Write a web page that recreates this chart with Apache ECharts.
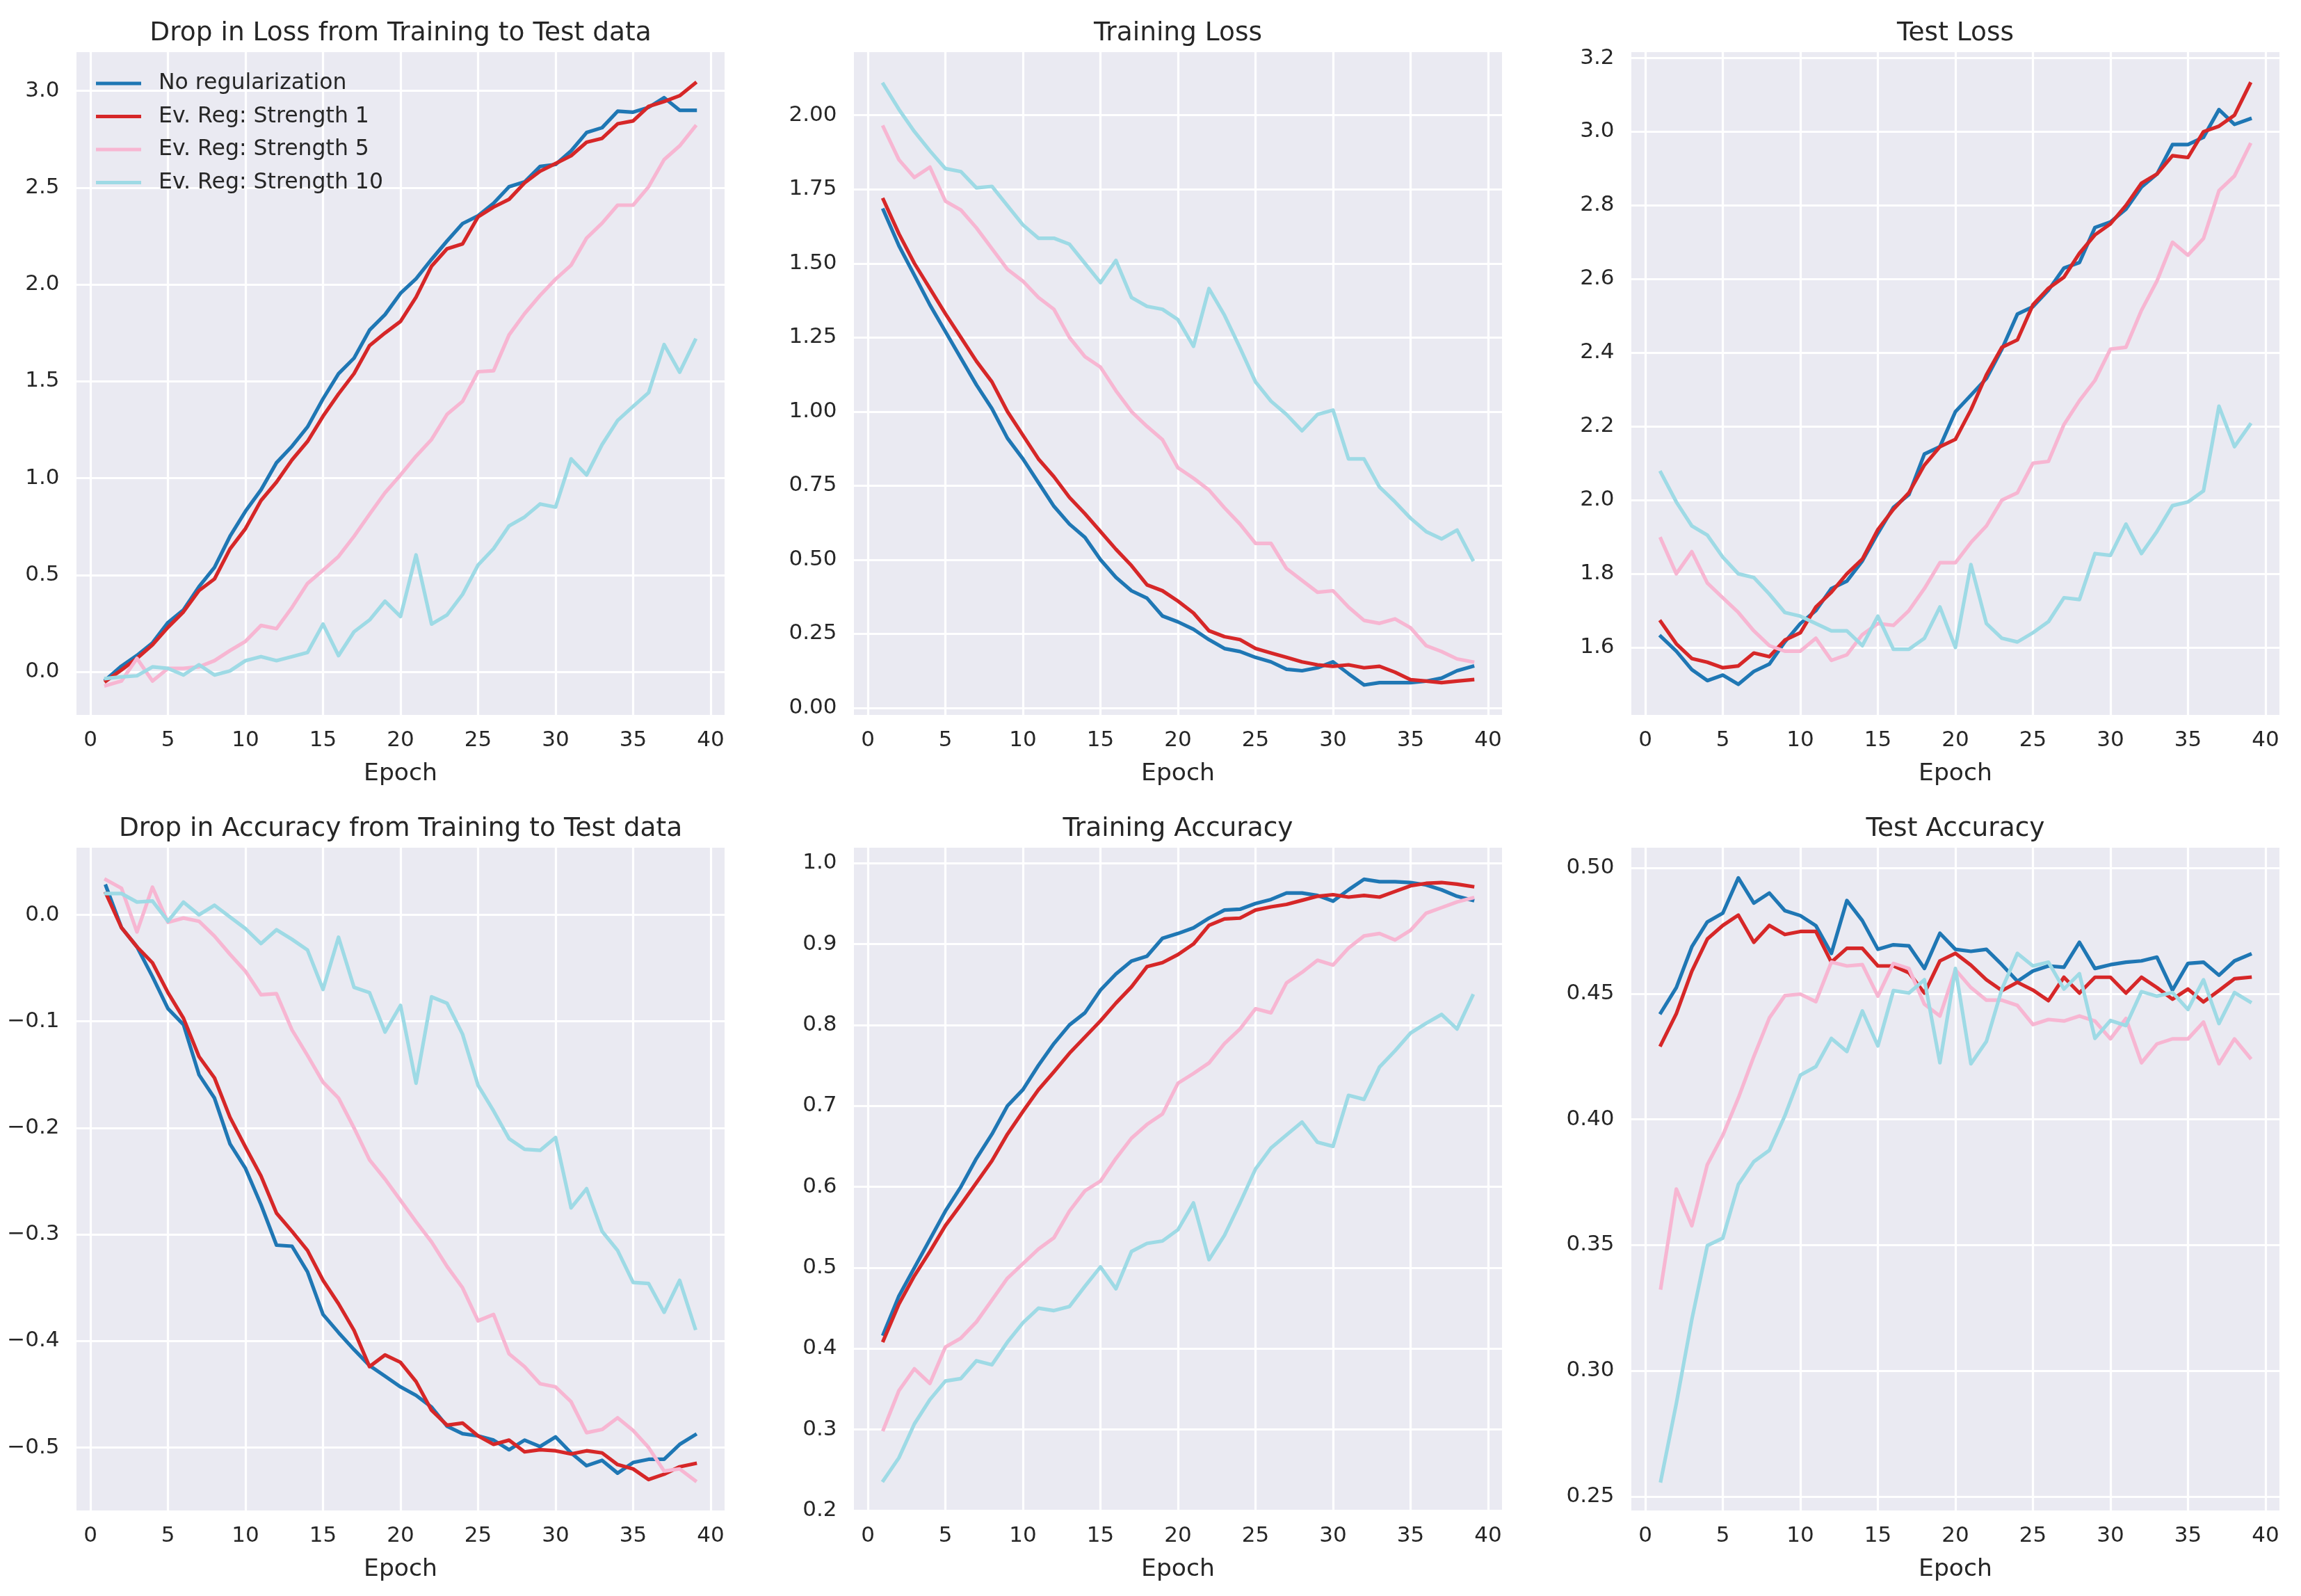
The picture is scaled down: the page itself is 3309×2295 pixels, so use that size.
<!DOCTYPE html>
<html>
<head>
<meta charset="utf-8">
<script src="https://cdn.jsdelivr.net/npm/echarts@6/dist/echarts.min.js"></script>
<style>
html,body{margin:0;padding:0;background:#ffffff;}
#chart{width:3309px;height:2295px;}
</style>
</head>
<body>
<div id="chart"></div>
<script>
// ---------------- DATA ----------------
const epochs = [1,2,3,4,5,6,7,8,9,10,11,12,13,14,15,16,17,18,19,20,21,22,23,24,25,26,27,28,29,30,31,32,33,34,35,36,37,38,39];
const seriesNames = ['No regularization','Ev. Reg: Strength 1','Ev. Reg: Strength 5','Ev. Reg: Strength 10'];
const panelTitles = ['Drop in Loss from Training to Test data','Training Loss','Test Loss',
                     'Drop in Accuracy from Training to Test data','Training Accuracy','Test Accuracy'];
const xAxisLabel = 'Epoch';

// Drop in Loss from Training to Test data
const dropLossNoReg = [-0.04,0.03,0.085,0.15,0.255,0.32,0.44,0.54,0.70,0.83,0.94,1.08,1.165,1.265,1.41,1.54,1.62,1.765,1.845,1.955,2.03,2.13,2.225,2.315,2.355,2.42,2.505,2.53,2.61,2.62,2.69,2.785,2.81,2.895,2.89,2.915,2.965,2.90,2.90];
const dropLossS1 = [-0.047,0.01,0.07,0.14,0.23,0.31,0.42,0.48,0.635,0.74,0.885,0.98,1.095,1.19,1.32,1.435,1.54,1.685,1.75,1.81,1.935,2.095,2.185,2.21,2.35,2.40,2.44,2.525,2.585,2.625,2.665,2.735,2.755,2.83,2.845,2.92,2.945,2.975,3.04];
const dropLossS5 = [-0.07,-0.047,0.07,-0.047,0.018,0.018,0.026,0.058,0.11,0.158,0.24,0.223,0.333,0.457,0.525,0.596,0.70,0.814,0.925,1.017,1.114,1.20,1.33,1.397,1.55,1.555,1.74,1.85,1.944,2.028,2.10,2.24,2.317,2.41,2.41,2.505,2.645,2.716,2.816];
const dropLossS10 = [-0.034,-0.026,-0.02,0.026,0.018,-0.016,0.037,-0.016,0.005,0.058,0.079,0.058,0.079,0.10,0.247,0.084,0.207,0.268,0.365,0.286,0.604,0.247,0.294,0.40,0.552,0.636,0.754,0.80,0.867,0.851,1.10,1.017,1.174,1.298,1.371,1.442,1.69,1.547,1.713];

// Training Loss
const trainLossNoReg = [1.68,1.56,1.46,1.36,1.27,1.18,1.09,1.01,0.91,0.84,0.76,0.68,0.62,0.575,0.50,0.44,0.395,0.37,0.31,0.29,0.265,0.23,0.20,0.19,0.17,0.155,0.13,0.125,0.135,0.155,0.115,0.077,0.085,0.085,0.085,0.09,0.10,0.125,0.14];
const trainLossS1 = [1.715,1.60,1.50,1.415,1.33,1.25,1.17,1.10,1.00,0.92,0.84,0.78,0.71,0.655,0.595,0.535,0.48,0.415,0.395,0.36,0.32,0.26,0.24,0.23,0.20,0.185,0.17,0.155,0.145,0.14,0.145,0.135,0.14,0.12,0.095,0.09,0.085,0.09,0.095];
const trainLossS5 = [1.96,1.85,1.79,1.825,1.71,1.68,1.62,1.55,1.48,1.44,1.385,1.345,1.25,1.185,1.15,1.07,1.00,0.95,0.905,0.81,0.775,0.735,0.675,0.62,0.555,0.555,0.47,0.43,0.39,0.395,0.34,0.295,0.285,0.30,0.27,0.21,0.19,0.165,0.155];
const trainLossS10 = [2.105,2.02,1.945,1.88,1.82,1.81,1.755,1.76,1.695,1.63,1.585,1.585,1.565,1.50,1.435,1.51,1.385,1.355,1.345,1.31,1.22,1.415,1.325,1.215,1.10,1.035,0.99,0.935,0.99,1.005,0.84,0.84,0.745,0.695,0.64,0.595,0.57,0.60,0.50];

// Test Loss
const testLossNoReg = [1.63,1.59,1.54,1.51,1.525,1.50,1.535,1.555,1.615,1.665,1.70,1.76,1.78,1.835,1.91,1.98,2.015,2.125,2.145,2.24,2.285,2.33,2.41,2.505,2.525,2.57,2.63,2.645,2.74,2.755,2.79,2.85,2.885,2.965,2.965,2.985,3.06,3.02,3.035];
const testLossS1 = [1.67,1.61,1.57,1.56,1.545,1.55,1.585,1.575,1.62,1.64,1.71,1.75,1.80,1.84,1.92,1.975,2.02,2.095,2.145,2.165,2.245,2.34,2.415,2.435,2.53,2.575,2.605,2.67,2.72,2.75,2.80,2.86,2.885,2.935,2.93,3.0,3.015,3.045,3.13];
const testLossS5 = [1.895,1.80,1.86,1.775,1.735,1.695,1.645,1.605,1.59,1.59,1.625,1.565,1.58,1.635,1.665,1.66,1.70,1.76,1.83,1.83,1.885,1.93,2.00,2.02,2.10,2.105,2.205,2.27,2.325,2.41,2.415,2.515,2.595,2.70,2.665,2.71,2.84,2.88,2.965];
const testLossS10 = [2.075,1.995,1.93,1.905,1.845,1.80,1.79,1.745,1.695,1.685,1.665,1.645,1.645,1.605,1.685,1.595,1.595,1.625,1.71,1.60,1.825,1.665,1.625,1.615,1.64,1.67,1.735,1.73,1.855,1.85,1.935,1.855,1.915,1.985,1.995,2.025,2.255,2.145,2.205];

// Drop in Accuracy from Training to Test data
const dropAccNoReg = [0.027,-0.012,-0.03,-0.058,-0.088,-0.103,-0.15,-0.172,-0.215,-0.238,-0.272,-0.31,-0.311,-0.335,-0.375,-0.392,-0.408,-0.423,-0.433,-0.443,-0.451,-0.462,-0.48,-0.487,-0.489,-0.493,-0.502,-0.493,-0.499,-0.49,-0.505,-0.517,-0.512,-0.524,-0.514,-0.511,-0.511,-0.497,-0.488];
const dropAccS1 = [0.02,-0.012,-0.03,-0.045,-0.073,-0.097,-0.133,-0.153,-0.19,-0.218,-0.245,-0.28,-0.297,-0.315,-0.343,-0.365,-0.39,-0.424,-0.413,-0.42,-0.438,-0.465,-0.479,-0.477,-0.489,-0.497,-0.493,-0.504,-0.502,-0.503,-0.506,-0.503,-0.505,-0.516,-0.52,-0.53,-0.525,-0.518,-0.515];
const dropAccS5 = [0.033,0.025,-0.016,0.026,-0.007,-0.003,-0.006,-0.02,-0.037,-0.053,-0.075,-0.074,-0.108,-0.132,-0.157,-0.172,-0.2,-0.23,-0.248,-0.268,-0.288,-0.307,-0.33,-0.35,-0.381,-0.375,-0.412,-0.424,-0.44,-0.443,-0.457,-0.486,-0.483,-0.472,-0.484,-0.5,-0.522,-0.52,-0.531];
const dropAccS10 = [0.02,0.02,0.012,0.013,-0.006,0.012,0.0,0.009,-0.002,-0.013,-0.027,-0.014,-0.023,-0.033,-0.07,-0.021,-0.068,-0.073,-0.11,-0.085,-0.158,-0.077,-0.083,-0.112,-0.16,-0.184,-0.21,-0.22,-0.221,-0.209,-0.275,-0.257,-0.297,-0.315,-0.345,-0.346,-0.373,-0.343,-0.388];

// Training Accuracy
const trainAccNoReg = [0.418,0.465,0.50,0.535,0.57,0.60,0.635,0.665,0.70,0.72,0.75,0.777,0.80,0.815,0.843,0.863,0.879,0.885,0.907,0.913,0.92,0.932,0.942,0.943,0.95,0.955,0.963,0.963,0.96,0.953,0.967,0.98,0.977,0.977,0.976,0.973,0.967,0.959,0.954];
const trainAccS1 = [0.41,0.455,0.49,0.52,0.552,0.578,0.605,0.632,0.665,0.693,0.72,0.742,0.765,0.785,0.805,0.827,0.847,0.872,0.877,0.887,0.90,0.923,0.931,0.932,0.942,0.946,0.949,0.954,0.959,0.961,0.958,0.96,0.958,0.965,0.972,0.975,0.976,0.974,0.971];
const trainAccS5 = [0.30,0.348,0.375,0.357,0.402,0.413,0.433,0.46,0.487,0.505,0.523,0.537,0.57,0.595,0.607,0.635,0.66,0.677,0.69,0.728,0.74,0.753,0.777,0.795,0.82,0.815,0.852,0.865,0.88,0.874,0.895,0.91,0.913,0.905,0.917,0.938,0.945,0.952,0.957];
const trainAccS10 = [0.237,0.265,0.307,0.337,0.36,0.363,0.385,0.38,0.408,0.432,0.45,0.447,0.452,0.477,0.501,0.474,0.52,0.53,0.533,0.547,0.58,0.51,0.54,0.58,0.622,0.648,0.664,0.68,0.655,0.65,0.713,0.708,0.748,0.768,0.79,0.802,0.813,0.795,0.836];

// Test Accuracy
const testAccNoReg = [0.4424,0.4524,0.4686,0.4785,0.482,0.496,0.486,0.490,0.483,0.481,0.477,0.466,0.487,0.479,0.4676,0.4694,0.469,0.460,0.474,0.4676,0.4668,0.4676,0.4615,0.4549,0.459,0.461,0.4605,0.4704,0.460,0.4615,0.4625,0.463,0.4645,0.4514,0.462,0.4625,0.4573,0.463,0.4656];
const testAccS1 = [0.4296,0.442,0.4589,0.4717,0.4771,0.4812,0.4704,0.4771,0.4735,0.4747,0.4747,0.4625,0.468,0.468,0.461,0.461,0.4583,0.4502,0.463,0.466,0.4613,0.4555,0.4512,0.4545,0.4514,0.4472,0.4565,0.4502,0.4565,0.4565,0.4502,0.4565,0.4524,0.4478,0.4518,0.4467,0.4512,0.4559,0.4565];
const testAccS5 = [0.333,0.3723,0.3577,0.382,0.3937,0.4085,0.425,0.4403,0.4492,0.4498,0.4468,0.4625,0.461,0.4615,0.449,0.462,0.46,0.4458,0.4411,0.4595,0.4524,0.4474,0.4474,0.4453,0.4377,0.4397,0.4391,0.4411,0.4391,0.432,0.4401,0.4225,0.43,0.432,0.432,0.4387,0.4221,0.432,0.4245];
const testAccS10 = [0.2563,0.287,0.3204,0.3498,0.3528,0.3741,0.3832,0.3877,0.4014,0.4176,0.421,0.4322,0.427,0.4431,0.4292,0.4512,0.4502,0.4555,0.4225,0.46,0.4221,0.431,0.4518,0.466,0.461,0.4625,0.4518,0.4579,0.4322,0.4393,0.4373,0.4508,0.449,0.4504,0.4437,0.4555,0.4381,0.4504,0.4467];

// ---------------- STYLE / LAYOUT ----------------
const FONT = 'DejaVu Sans';
const TEXT = '#262626';
const colors = ['#1f77b4', '#d62728', '#f7b6d2', '#9edae5'];
const colLeft = [110, 1228, 2346];
const rowTop = [75, 1219];
const PW = 932, PH = 953;
const LW = 5.2;

const panels = [
  {data:[dropLossNoReg,dropLossS1,dropLossS5,dropLossS10], yMin:-0.222, yMax:3.20, step:0.5, dec:1, minLbl:false},
  {data:[trainLossNoReg,trainLossS1,trainLossS5,trainLossS10], yMin:-0.024, yMax:2.213, step:0.25, dec:2, minLbl:false},
  {data:[testLossNoReg,testLossS1,testLossS5,testLossS10], yMin:1.417, yMax:3.216, step:0.2, dec:1, minLbl:false},
  {data:[dropAccNoReg,dropAccS1,dropAccS5,dropAccS10], yMin:-0.559, yMax:0.063, step:0.1, dec:1, minLbl:false},
  {data:[trainAccNoReg,trainAccS1,trainAccS5,trainAccS10], yMin:0.2, yMax:1.019, step:0.1, dec:1, minLbl:true},
  {data:[testAccNoReg,testAccS1,testAccS5,testAccS10], yMin:0.2445, yMax:0.508, step:0.05, dec:2, minLbl:false}
];

function fmt(v, d) {
  if (Math.abs(v) < 1e-9) return (0).toFixed(d);
  return v < 0 ? '\u2212' + Math.abs(v).toFixed(d) : v.toFixed(d);
}

const grids = [], xAxes = [], yAxes = [], series = [], titles = [];
panels.forEach((p, i) => {
  const r = Math.floor(i / 3), c = i % 3;
  const left = colLeft[c], top = rowTop[r];
  grids.push({left: left, top: top, width: PW, height: PH, show: true,
              backgroundColor: '#EAEAF2', borderWidth: 0, containLabel: false});
  titles.push({text: panelTitles[i], left: left + PW / 2, top: top - 46, textAlign: 'center', padding: 0,
               textStyle: {fontFamily: FONT, fontSize: 37.5, fontWeight: 'normal', color: TEXT}});
  xAxes.push({type: 'value', gridIndex: i, min: -0.9, max: 40.9, minInterval: 5, maxInterval: 5,
    axisLine: {show: false}, axisTick: {show: false},
    axisLabel: {show: true, margin: 21, fontFamily: FONT, fontSize: 31, color: TEXT,
                showMinLabel: false, showMaxLabel: false, formatter: v => String(Math.round(v))},
    splitLine: {show: true, showMinLine: false, showMaxLine: false, lineStyle: {color: '#ffffff', width: 3.2}},
    name: xAxisLabel, nameLocation: 'middle', nameGap: 68,
    nameTextStyle: {fontFamily: FONT, fontSize: 34.6, color: TEXT}});
  yAxes.push({type: 'value', gridIndex: i, min: p.yMin, max: p.yMax, minInterval: p.step, maxInterval: p.step,
    axisLine: {show: false}, axisTick: {show: false},
    axisLabel: {show: true, margin: 24.5, fontFamily: FONT, fontSize: 31, color: TEXT,
                showMinLabel: p.minLbl, showMaxLabel: false, formatter: v => fmt(v, p.dec)},
    splitLine: {show: true, showMinLine: p.minLbl, showMaxLine: false, lineStyle: {color: '#ffffff', width: 3.2}}});
  p.data.forEach((arr, k) => {
    series.push({type: 'line', name: seriesNames[k], xAxisIndex: i, yAxisIndex: i,
      data: epochs.map((e, j) => [e, arr[j]]),
      symbol: 'none', showSymbol: false, smooth: false, animation: false,
      itemStyle: {color: colors[k]},
      lineStyle: {color: colors[k], width: LW, join: 'round', cap: 'square'},
      z: 2 + k});
  });
});

const chart = echarts.init(document.getElementById('chart'), null, {renderer: 'canvas'});
chart.setOption({
  animation: false,
  backgroundColor: '#ffffff',
  title: titles,
  legend: {data: seriesNames, orient: 'vertical', left: 138, top: 104, padding: 0,
    icon: 'rect', itemWidth: 65, itemHeight: LW, itemGap: 15.5, selectedMode: false,
    textStyle: {fontFamily: FONT, fontSize: 31.5, color: TEXT, lineHeight: 32, padding: [0, 0, 0, 20]}},
  grid: grids,
  xAxis: xAxes,
  yAxis: yAxes,
  series: series
});
</script>
</body>
</html>
